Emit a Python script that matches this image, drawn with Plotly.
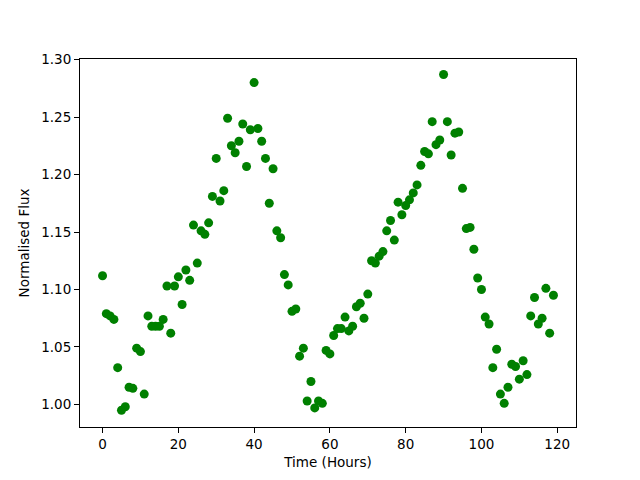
import plotly.graph_objects as go

time_hours = list(range(120))
flux = [
    1.112, 1.079, 1.077, 1.074, 1.032, 0.995, 0.998, 1.015, 1.014, 1.049,
    1.046, 1.009, 1.077, 1.068, 1.068, 1.068, 1.074, 1.103, 1.062, 1.103,
    1.111, 1.087, 1.117, 1.108, 1.156, 1.123, 1.151, 1.148, 1.158, 1.181,
    1.214, 1.177, 1.186, 1.249, 1.225, 1.219, 1.229, 1.244, 1.207, 1.239,
    1.280, 1.240, 1.229, 1.214, 1.175, 1.205, 1.151, 1.145, 1.113, 1.104,
    1.081, 1.083, 1.042, 1.049, 1.003, 1.020, 0.997, 1.003, 1.001, 1.047,
    1.044, 1.060, 1.066, 1.066, 1.076, 1.064, 1.068, 1.085, 1.088, 1.075,
    1.096, 1.125, 1.123, 1.129, 1.133, 1.151, 1.160, 1.143, 1.176, 1.165,
    1.173, 1.178, 1.184, 1.191, 1.208, 1.220, 1.218, 1.246, 1.226, 1.230,
    1.287, 1.246, 1.217, 1.236, 1.237, 1.188, 1.153, 1.154, 1.135, 1.110,
    1.100, 1.076, 1.070, 1.032, 1.048, 1.009, 1.001, 1.015, 1.035, 1.033,
    1.022, 1.038, 1.026, 1.077, 1.093, 1.070, 1.075, 1.101, 1.062, 1.095,
]
x_ticks = [0, 20, 40, 60, 80, 100, 120]
y_ticks = [1.00, 1.05, 1.10, 1.15, 1.20, 1.25, 1.30]

fig = go.Figure(go.Scatter(
    x=time_hours, y=flux, mode="markers",
    marker=dict(color="#008000", size=9, line=dict(width=0)),
))

font = dict(family="DejaVu Sans", size=13.5, color="black")
axis_common = dict(showline=True, linecolor="black", linewidth=1, mirror=True,
                   ticks="outside", ticklen=5, tickcolor="black", tickwidth=1,
                   showgrid=False, zeroline=False, tickfont=font)

xmin, xmax = min(time_hours), max(time_hours)
ymin, ymax = min(flux), max(flux)
xm = 0.05 * (xmax - xmin)
ym = 0.05 * (ymax - ymin)

fig.update_xaxes(range=[xmin - xm, xmax + xm], tickvals=x_ticks,
                 title=dict(text="Time (Hours)", font=font, standoff=6), **axis_common)
fig.update_yaxes(range=[ymin - ym, 1.3005], tickvals=y_ticks, tickformat=".2f",
                 title=dict(text="Normalised Flux", font=font, standoff=8), **axis_common)

fig.update_layout(width=640, height=480, margin=dict(l=72, r=72, t=51, b=61),
                  plot_bgcolor="white", paper_bgcolor="white", showlegend=False,
                  font=font)

fig.write_html("out.html")
